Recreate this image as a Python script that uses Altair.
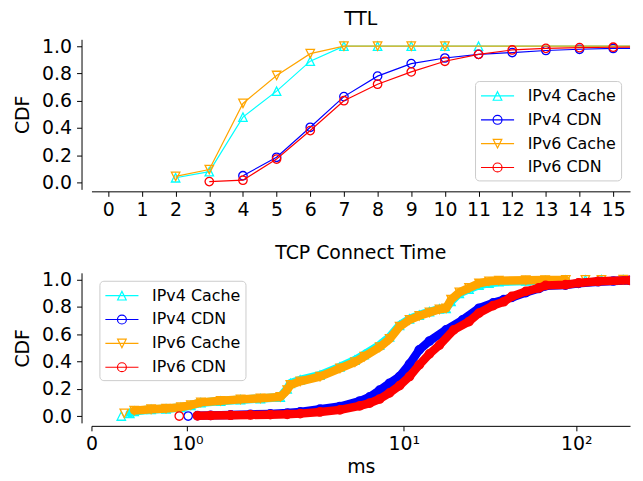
import math
import altair as alt
import pandas as pd

SERIES = ["IPv4 Cache", "IPv4 CDN", "IPv6 Cache", "IPv6 CDN"]
COLORS = ["#00ffff", "#0000ff", "#ffa500", "#ff0000"]

# ---------------- TTL (top panel) ----------------
ttl_v4_cache_x = [2, 3, 4, 5, 6, 7, 8, 9, 10, 11, 20]
ttl_v4_cache_y = [0.035, 0.08, 0.48, 0.67, 0.89, 1.0, 1.0, 1.0, 1.0, 1.0, 1.0]
ttl_v4_cdn_x = [4, 5, 6, 7, 8, 9, 10, 11, 12, 13, 14, 15, 20]
ttl_v4_cdn_y = [0.05, 0.185, 0.405, 0.63, 0.78, 0.872, 0.913, 0.94, 0.953, 0.968, 0.977, 0.983, 0.99]
ttl_v6_cache_x = [2, 3, 4, 5, 6, 7, 8, 9, 10, 20]
ttl_v6_cache_y = [0.045, 0.095, 0.58, 0.785, 0.945, 1.0, 1.0, 1.0, 1.0, 1.0]
ttl_v6_cdn_x = [3, 4, 5, 6, 7, 8, 9, 10, 11, 12, 13, 14, 15, 20]
ttl_v6_cdn_y = [0.007, 0.017, 0.172, 0.381, 0.60, 0.721, 0.811, 0.889, 0.94, 0.972, 0.984, 0.989, 0.992, 0.997]
ttl_ticks = list(range(0, 16))

# ---------------- TCP connect time (bottom panel), ms / CDF ----------------
tcp_v4_cache_ms = [0.311, 0.40, 0.446, 0.622, 0.778, 0.933, 1.037, 1.141, 1.348, 1.555, 1.763, 1.97,
                   2.11, 2.20, 2.51, 3.27, 4.27, 5.21, 5.9, 7.25, 8.28, 9.46, 10.8, 12.3, 14.1,
                   16.1, 17.6, 18.8, 21.0, 23.9, 27.3, 31.2, 35.6, 51, 66, 87, 113, 140, 187]
tcp_v4_cache_cdf = [0.0, 0.02, 0.035, 0.048, 0.053, 0.063, 0.078, 0.098, 0.11, 0.12, 0.128, 0.138,
                    0.20, 0.24, 0.265, 0.30, 0.36, 0.41, 0.45, 0.52, 0.58, 0.665, 0.712, 0.74, 0.765,
                    0.785, 0.79, 0.84, 0.90, 0.93, 0.96, 0.975, 0.985, 0.99, 0.993, 0.996, 0.998, 0.999, 1.0]
tcp_v4_cdn_ms = [1.009, 1.106, 1.244, 1.452, 1.659, 1.866, 2.11, 2.51, 3.27, 4.27, 5.56, 6.35, 7.25,
                 8.28, 9.46, 10.8, 12.3, 14.1, 17.6, 22.0, 27.3, 33.0, 38.0, 42.3, 51.0, 60.6, 66.4,
                 86.6, 103, 134, 164, 205]
tcp_v4_cdn_cdf = [0.0, 0.003, 0.005, 0.008, 0.012, 0.016, 0.022, 0.03, 0.05, 0.07, 0.11, 0.14, 0.19,
                  0.24, 0.29, 0.38, 0.485, 0.55, 0.632, 0.706, 0.79, 0.83, 0.853, 0.87, 0.905, 0.935,
                  0.955, 0.96, 0.973, 0.985, 0.99, 0.995]
tcp_v6_cache_ms = [0.342, 0.446, 0.622, 0.778, 0.933, 1.037, 1.141, 1.348, 1.555, 1.763, 1.97, 2.11,
                   2.20, 2.51, 3.27, 4.27, 5.21, 5.9, 7.25, 8.28, 9.46, 10.8, 12.3, 14.1, 16.1, 17.6,
                   18.8, 21.0, 23.9, 27.3, 31.2, 35.6, 51, 66, 87, 113, 140, 187]
tcp_v6_cache_cdf = [0.02, 0.04, 0.05, 0.055, 0.065, 0.08, 0.10, 0.112, 0.122, 0.13, 0.14, 0.19,
                    0.228, 0.255, 0.289, 0.35, 0.395, 0.436, 0.505, 0.565, 0.655, 0.705, 0.735, 0.76,
                    0.783, 0.79, 0.853, 0.907, 0.939, 0.972, 0.988, 0.993, 0.996, 0.997, 0.998,
                    0.999, 0.999, 1.0]
tcp_v6_cdn_ms = [0.916, 1.106, 1.244, 1.452, 1.659, 1.866, 2.11, 2.51, 3.27, 4.27, 5.56, 6.35, 7.25,
                 8.28, 9.46, 10.8, 12.3, 14.1, 16.1, 19.5, 23.9, 27.3, 33.0, 38.0, 42.3, 51.0, 60.6,
                 66.4, 86.6, 103, 134, 205]
tcp_v6_cdn_cdf = [0.0, 0.002, 0.004, 0.006, 0.008, 0.01, 0.013, 0.018, 0.03, 0.045, 0.075, 0.095,
                  0.125, 0.17, 0.223, 0.29, 0.375, 0.456, 0.52, 0.632, 0.693, 0.755, 0.81, 0.838,
                  0.877, 0.914, 0.939, 0.958, 0.963, 0.976, 0.988, 0.995]
tcp_tick_ms = [0, 1, 10, 100]
tcp_max_ms = 205

# ---------------- styles ----------------
FONT = "DejaVu Sans"
MARKERS = ["M0,-1L1,1L-1,1Z", "circle", "M0,1L1,-1L-1,-1Z", "circle"]
# legend glyphs: a line with the marker in its middle (unit = 9 px)
LINE = "M-1,0H2.7"
CIRC = "M1.35,0A0.5,0.5,0,1,1,0.35,0A0.5,0.5,0,1,1,1.35,0Z"
LEGEND_SYMBOLS = [
    LINE + "M0.85,-0.48L1.33,0.48L0.37,0.48Z",
    LINE + CIRC,
    LINE + "M0.85,0.48L1.33,-0.48L0.37,-0.48Z",
    LINE + CIRC,
]
LINSCALE = 1 / 0.9   # symlog, linthresh = 2


def symlog(v):
    return v * LINSCALE if v <= 2 else 2 * (LINSCALE + math.log10(v / 2))


SYMLOG_EXPR = f"datum.ms <= 2 ? datum.ms * {LINSCALE} : 2 * ({LINSCALE} + log(datum.ms / 2) / LN10)"


def long_df(xs, ys, xname, yname):
    rows = []
    for s, x, y in zip(SERIES, xs, ys):
        for a, b in zip(x, y):
            rows.append({"series": s, xname: a, yname: b})
    return pd.DataFrame(rows)


ttl_df = long_df([ttl_v4_cache_x, ttl_v4_cdn_x, ttl_v6_cache_x, ttl_v6_cdn_x],
                 [ttl_v4_cache_y, ttl_v4_cdn_y, ttl_v6_cache_y, ttl_v6_cdn_y], "ttl", "cdf")
tcp_df = long_df([tcp_v4_cache_ms, tcp_v4_cdn_ms, tcp_v6_cache_ms, tcp_v6_cdn_ms],
                 [tcp_v4_cache_cdf, tcp_v4_cdn_cdf, tcp_v6_cache_cdf, tcp_v6_cdn_cdf], "ms", "cdf")

W, H = 542, 151

y_enc = alt.Y("cdf:Q", scale=alt.Scale(domain=[-0.05, 1.05], nice=False, zero=False),
              axis=alt.Axis(values=[0, 0.2, 0.4, 0.6, 0.8, 1.0], format=".1f", title="CDF",
                            offset=10, titlePadding=9))


def legend_layer(base, x_enc, orient, offset):
    leg = alt.Legend(title=None, orient=orient, offset=offset)
    return base.transform_filter("false").mark_point(filled=False, opacity=1).encode(
        x=x_enc, y=y_enc,
        color=alt.Color("series:N", scale=alt.Scale(domain=SERIES, range=COLORS), legend=leg),
        shape=alt.Shape("series:N", scale=alt.Scale(domain=SERIES, range=LEGEND_SYMBOLS), legend=leg),
    )


# top panel
ttl_x = alt.X("ttl:Q", scale=alt.Scale(domain=[-0.5, 15.5], nice=False, zero=False),
              axis=alt.Axis(values=ttl_ticks, title=None, offset=2, labelPadding=4, labelFlush=False))
ttl_base = alt.Chart(ttl_df)
top_layers = []
for i, s in enumerate(SERIES):
    sub = ttl_base.transform_filter(alt.datum.series == s)
    top_layers.append(sub.mark_line(color=COLORS[i], strokeWidth=1.2, clip=True).encode(x=ttl_x, y=y_enc))
    top_layers.append(sub.mark_point(shape=MARKERS[i], size=72, filled=False, color=COLORS[i],
                                     strokeWidth=1.3, opacity=1, clip=True).encode(x=ttl_x, y=y_enc))
top_layers.append(legend_layer(ttl_base, ttl_x, "bottom-right", 9))
top = alt.layer(*top_layers).properties(
    width=W, height=H, title=alt.TitleParams("TTL"))

# bottom panel
tick_pos = [symlog(v) if v > 0 else 0 for v in tcp_tick_ms]
tcp_x = alt.X("t:Q", scale=alt.Scale(domain=[0, symlog(tcp_max_ms)], nice=False, zero=False),
              axis=alt.Axis(values=tick_pos, title="ms", offset=3, labelPadding=4, titlePadding=4,
                            labelFlush=False,
                            labelExpr="datum.value < 0.5 ? '0' : datum.value < 2 ? '10⁰' : datum.value < 4.5 ? '10¹' : '10²'"))
tcp_base = alt.Chart(tcp_df).transform_calculate(t=SYMLOG_EXPR)
bot_layers = []
for i, s in enumerate(SERIES):
    sub = tcp_base.transform_filter(alt.datum.series == s)
    if "Cache" in s:
        band = sub.transform_filter("datum.ms >= 0.4 && datum.ms <= 95")
    else:
        band = sub.transform_filter("datum.ms >= 1.1")
    bot_layers.append(band.mark_line(color=COLORS[i], strokeWidth=8.5, strokeJoin="round",
                                     strokeCap="round", clip=True).encode(x=tcp_x, y=y_enc))
    bot_layers.append(sub.mark_point(shape=MARKERS[i], size=72, filled=False, color=COLORS[i],
                                     strokeWidth=1.3, opacity=1, clip=True).encode(x=tcp_x, y=y_enc))
bot_layers.append(legend_layer(tcp_base, tcp_x, "top-left", 8))
bottom = alt.layer(*bot_layers).properties(
    width=W, height=H, title=alt.TitleParams("TCP Connect Time"))

chart = alt.vconcat(top, bottom, spacing=24).resolve_scale(
    color="independent", shape="independent"
).properties(
    padding={"left": 5, "top": 0, "right": 5, "bottom": 5}
).configure_view(stroke=None).configure_axis(
    grid=False, domainColor="#000", domainWidth=1, tickColor="#000", tickWidth=1, tickSize=5,
    labelFont=FONT, labelFontSize=19, labelColor="#000", labelPadding=5,
    titleFont=FONT, titleFontSize=19, titleFontWeight="normal", titleColor="#000",
).configure_title(
    font=FONT, fontSize=19, fontWeight="normal", color="#000", offset=8, anchor="middle"
).configure_legend(
    labelFont=FONT, labelFontSize=16, labelColor="#000", symbolSize=324, symbolStrokeWidth=1.2,
    labelOffset=28, padding=5, rowPadding=6, strokeColor="#cccccc", fillColor="rgba(255,255,255,0.8)",
    cornerRadius=4,
)

chart.save("out.html", embed_options={"renderer": "svg", "actions": False})
